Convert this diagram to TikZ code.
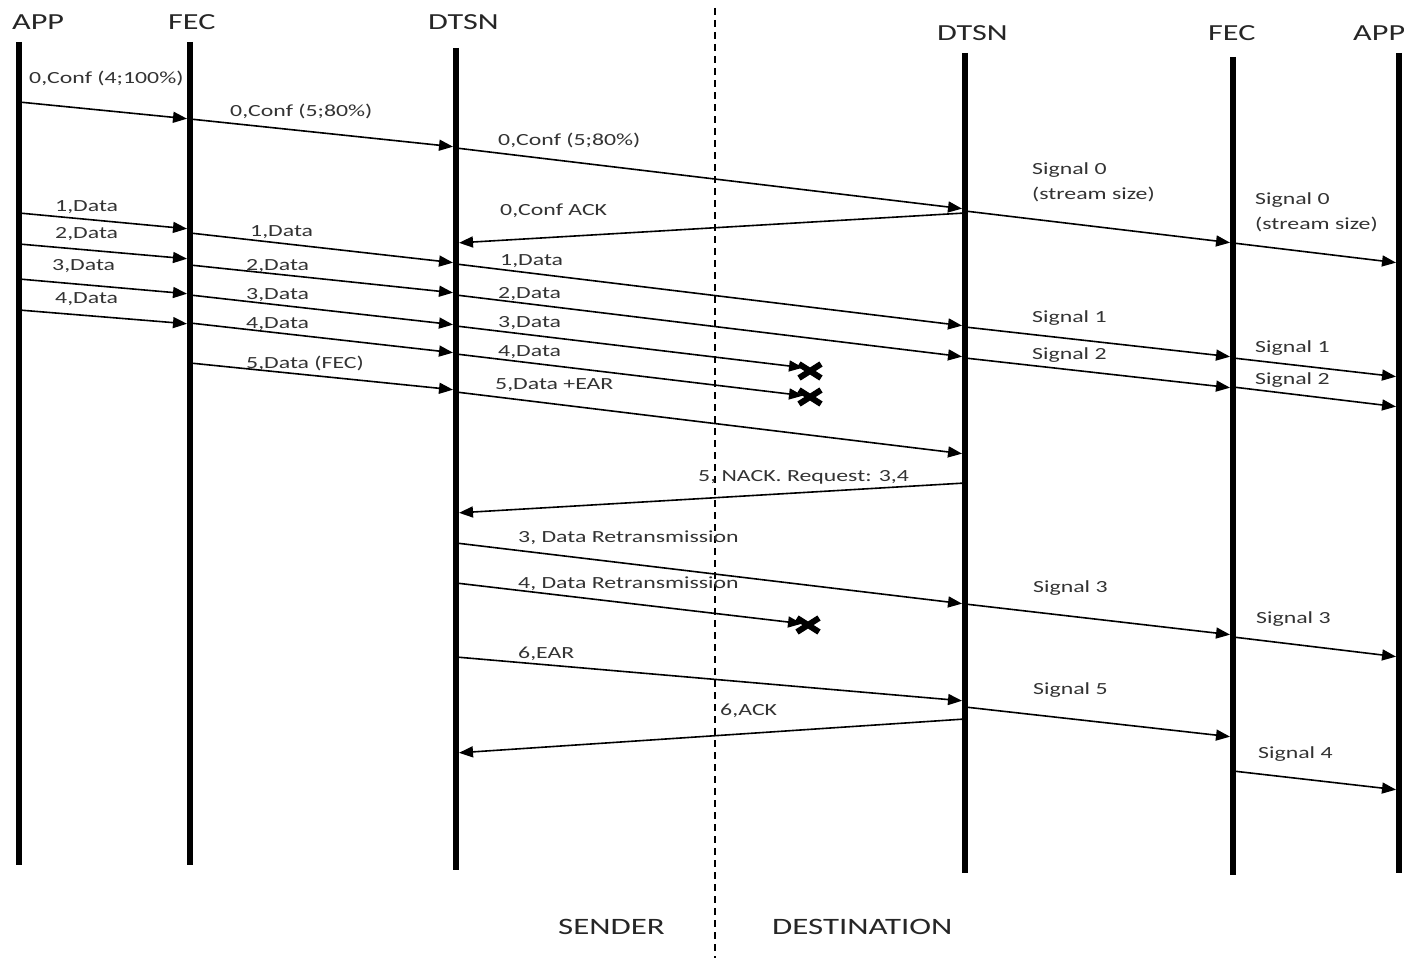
\documentclass[tikz,border=0pt]{standalone}
\usepackage{fontspec}
\usetikzlibrary{arrows.meta}
\newfontfamily\diagfont{Carlito}[FakeStretch=1.4]

\begin{document}
\begin{tikzpicture}[x=1pt, y=-1pt,
    lifeline/.style={line width=6pt},
    msg/.style={line width=1.6pt, -{Triangle[length=14pt,width=11pt]}, shorten >=3pt, shorten <=3pt},
    lost/.style={line width=6pt},
    lbl/.style={anchor=base west, inner sep=0pt, text=black!80, font=\diagfont\fontsize{17}{25}\selectfont},
    lbltwo/.style={anchor=west, align=left, inner sep=0pt, text=black!80, font=\diagfont\fontsize{17}{25}\selectfont},
    head/.style={anchor=base west, inner sep=0pt, text=black!85, font=\diagfont\fontsize{23}{28}\selectfont},
    side/.style={anchor=base west, inner sep=0pt, text=black!85, font=\diagfont\fontsize{23.5}{28}\selectfont}]
    \useasboundingbox (0,0) rectangle (1404,958);

    % lifelines
    \coordinate (app1) at (19,42);    \coordinate (app1b) at (19,865);
    \coordinate (fec1) at (190,42);   \coordinate (fec1b) at (190,865);
    \coordinate (dtsn1) at (456,48);  \coordinate (dtsn1b) at (456,870);
    \coordinate (dtsn2) at (965,53);  \coordinate (dtsn2b) at (965,873);
    \coordinate (fec2) at (1233,57);  \coordinate (fec2b) at (1233,875);
    \coordinate (app2) at (1399,53);  \coordinate (app2b) at (1399,873);
    \coordinate (split) at (715,8);   \coordinate (splitb) at (715,958);

    \draw[lifeline] (app1) -- (app1b);
    \draw[lifeline] (fec1) -- (fec1b);
    \draw[lifeline] (dtsn1) -- (dtsn1b);
    \draw[lifeline] (dtsn2) -- (dtsn2b);
    \draw[lifeline] (fec2) -- (fec2b);
    \draw[lifeline] (app2) -- (app2b);
    \draw[line width=1.5pt, dash pattern=on 7pt off 5pt] (split) -- (splitb);

    \node[head] (happ1) at (12,30) {APP};
    \node[head] (hfec1) at (168,30) {FEC};
    \node[head] (hdtsn1) at (428,30) {DTSN};
    \node[head] (hdtsn2) at (937,41) {DTSN};
    \node[head] (hfec2) at (1208,41) {FEC};
    \node[head] (happ2) at (1353,41) {APP};

    % configuration
    \draw[msg] (app1 |- 0,102) -- (fec1 |- 0,119);
    \node[lbl] (conf1) at (29,83) {0,Conf (4;100\%)};
    \draw[msg] (fec1 |- 0,119) -- (dtsn1 |- 0,147);
    \node[lbl] (conf2) at (230,116) {0,Conf (5;80\%)};
    \draw[msg] (dtsn1 |- 0,148) -- (dtsn2 |- 0,209);
    \node[lbl] (conf3) at (498,145) {0,Conf (5;80\%)};
    \draw[msg] (dtsn2 |- 0,211) -- (fec2 |- 0,243);
    \node[lbltwo] (sig0a) at (1032,182) {Signal 0\\(stream size)};
    \draw[msg] (fec2 |- 0,243) -- (app2 |- 0,263);
    \node[lbltwo] (sig0b) at (1255,212) {Signal 0\\(stream size)};
    \draw[msg] (dtsn2 |- 0,213) -- (dtsn1 |- 0,243);
    \node[lbl] (confack) at (500,215) {0,Conf ACK};

    % data from APP to FEC
    \draw[msg] (app1 |- 0,213) -- (fec1 |- 0,229);
    \node[lbl] (da1) at (55,211) {1,Data};
    \draw[msg] (app1 |- 0,244) -- (fec1 |- 0,259);
    \node[lbl] (da2) at (55,238) {2,Data};
    \draw[msg] (app1 |- 0,279) -- (fec1 |- 0,294);
    \node[lbl] (da3) at (52,270) {3,Data};
    \draw[msg] (app1 |- 0,310) -- (fec1 |- 0,324);
    \node[lbl] (da4) at (55,303) {4,Data};

    % FEC to DTSN
    \draw[msg] (fec1 |- 0,233) -- (dtsn1 |- 0,263);
    \node[lbl] (df1) at (250,236) {1,Data};
    \draw[msg] (fec1 |- 0,265) -- (dtsn1 |- 0,293);
    \node[lbl] (df2) at (246,270) {2,Data};
    \draw[msg] (fec1 |- 0,295) -- (dtsn1 |- 0,325);
    \node[lbl] (df3) at (246,299) {3,Data};
    \draw[msg] (fec1 |- 0,323) -- (dtsn1 |- 0,353);
    \node[lbl] (df4) at (246,328) {4,Data};
    \draw[msg] (fec1 |- 0,363) -- (dtsn1 |- 0,390);
    \node[lbl] (df5) at (246,368) {5,Data (FEC)};

    % DTSN to DTSN
    \coordinate (lost3) at (806,368);
    \coordinate (lost4) at (806,396);
    \coordinate (x3) at (810,371);
    \coordinate (x4) at (810,397);
    \draw[msg] (dtsn1 |- 0,264) -- (dtsn2 |- 0,326);
    \node[lbl] (dd1) at (500,265) {1,Data};
    \draw[msg] (dtsn1 |- 0,295) -- (dtsn2 |- 0,357);
    \node[lbl] (dd2) at (498,298) {2,Data};
    \draw[msg] (dtsn1 |- 0,326) -- (lost3);
    \node[lbl] (dd3) at (498,327) {3,Data};
    \draw[msg] (dtsn1 |- 0,354) -- (lost4);
    \node[lbl] (dd4) at (498,356) {4,Data};
    \draw[msg] (dtsn1 |- 0,392) -- (dtsn2 |- 0,454);
    \node[lbl] (dd5) at (495,389) {5,Data +EAR};
    \draw[lost] ([shift={(-11,-7)}]x3) -- ([shift={(11,7)}]x3);
    \draw[lost] ([shift={(-11,7)}]x3) -- ([shift={(11,-7)}]x3);
    \draw[lost] ([shift={(-11,-7)}]x4) -- ([shift={(11,7)}]x4);
    \draw[lost] ([shift={(-11,7)}]x4) -- ([shift={(11,-7)}]x4);

    % signals at destination
    \draw[msg] (dtsn2 |- 0,327) -- (fec2 |- 0,357);
    \node[lbl] (s1a) at (1032,322) {Signal 1};
    \draw[msg] (dtsn2 |- 0,358) -- (fec2 |- 0,388);
    \node[lbl] (s2a) at (1032,359) {Signal 2};
    \draw[msg] (fec2 |- 0,358) -- (app2 |- 0,377);
    \node[lbl] (s1b) at (1255,352) {Signal 1};
    \draw[msg] (fec2 |- 0,387) -- (app2 |- 0,407);
    \node[lbl] (s2b) at (1255,384) {Signal 2};

    % NACK and retransmission
    \coordinate (lostr4) at (805,624);
    \coordinate (xr4) at (808,625);
    \draw[msg] (dtsn2 |- 0,483) -- (dtsn1 |- 0,513);
    \node[lbl] (nack) at (698,481) {5, NACK. Request: 3,4};
    \draw[msg] (dtsn1 |- 0,543) -- (dtsn2 |- 0,604);
    \node[lbl] (re3) at (518,542) {3, Data Retransmission};
    \draw[msg] (dtsn1 |- 0,583) -- (lostr4);
    \node[lbl] (re4) at (518,588) {4, Data Retransmission};
    \draw[lost] ([shift={(-11,-7)}]xr4) -- ([shift={(11,7)}]xr4);
    \draw[lost] ([shift={(-11,7)}]xr4) -- ([shift={(11,-7)}]xr4);
    \draw[msg] (dtsn2 |- 0,604) -- (fec2 |- 0,635);
    \node[lbl] (s3a) at (1033,592) {Signal 3};
    \draw[msg] (fec2 |- 0,637) -- (app2 |- 0,657);
    \node[lbl] (s3b) at (1256,623) {Signal 3};

    % EAR and ACK
    \draw[msg] (dtsn1 |- 0,657) -- (dtsn2 |- 0,701);
    \node[lbl] (ear) at (518,658) {6,EAR};
    \draw[msg] (dtsn2 |- 0,719) -- (dtsn1 |- 0,753);
    \node[lbl] (ack) at (720,715) {6,ACK};
    \draw[msg] (dtsn2 |- 0,707) -- (fec2 |- 0,737);
    \node[lbl] (s5a) at (1033,694) {Signal 5};
    \draw[msg] (fec2 |- 0,771) -- (app2 |- 0,790);
    \node[lbl] (s4b) at (1258,758) {Signal 4};

    \node[side] (sender) at (558,934) {SENDER};
    \node[side] (dest) at (772,934) {DESTINATION};
\end{tikzpicture}
\end{document}
